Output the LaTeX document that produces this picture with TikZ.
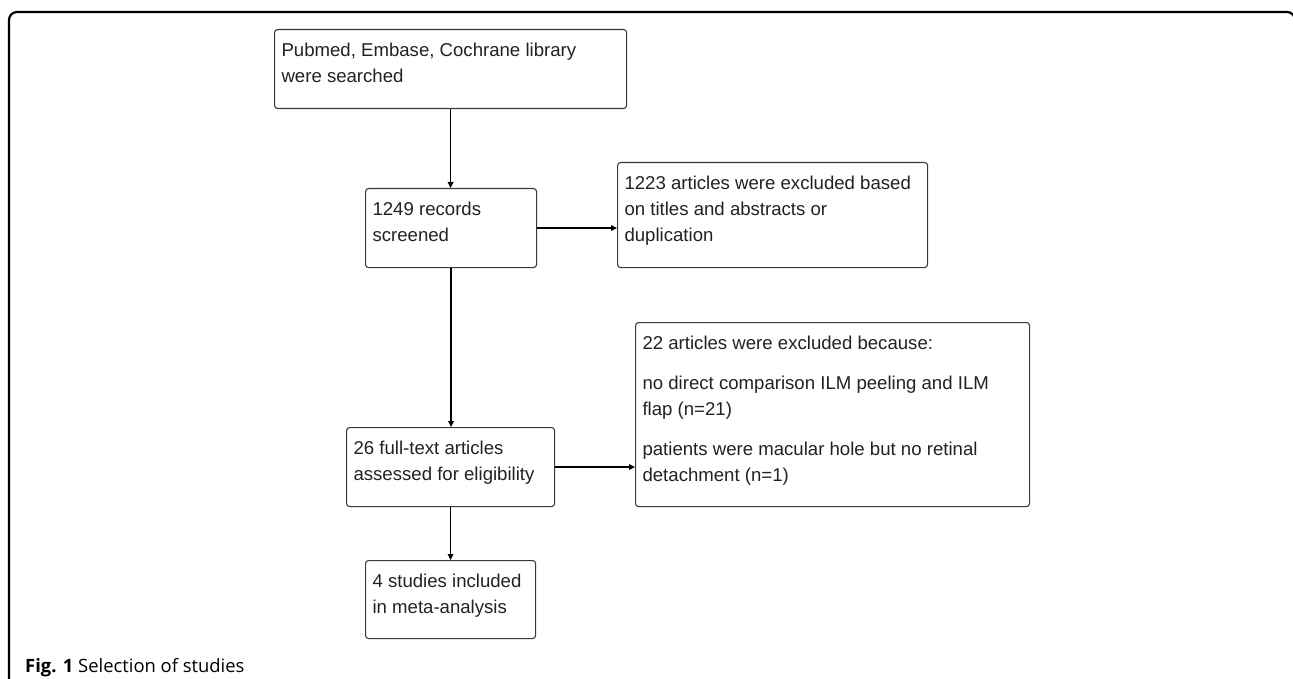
\documentclass[tikz,border=0pt]{standalone}
\usepackage{fontspec}
\setmainfont{Liberation Sans}
\newfontfamily\capfont{Open Sans}
\usetikzlibrary{arrows.meta}
\definecolor{boxgray}{HTML}{3A3A3A}
\definecolor{textgray}{HTML}{222222}
\newcommand{\bxt}[3]{\parbox[c][#2][t]{#1}{\raggedright\fontsize{18.6pt}{26pt}\selectfont\rule{0pt}{27pt}#3}}
\begin{document}
\begin{tikzpicture}[x=1pt,y=-1pt,
  flowbox/.style={draw=boxgray, line width=1.1pt, rounded corners=3pt, anchor=north west,
    inner xsep=7pt, inner ysep=0pt, text=textgray},
  flowarrow/.style={draw=black, line width=1.3pt, -{Triangle[length=6pt,width=5.5pt]}}]
\useasboundingbox (0,0) rectangle (1293,679);
\fill[white] (0,0) rectangle (1293,679);
% outer frame
\draw[line width=2.2pt, rounded corners=8pt] (9,700) -- (9,12) -- (1295,12) -- (1295,700);
% boxes
\node[flowbox] (b1) at (274,29) {\bxt{338pt}{79pt}{Pubmed, Embase, Cochrane library\\were searched}};
\node[flowbox] (b2) at (365,188) {\bxt{157pt}{79pt}{1249 records\\screened}};
\node[flowbox] (b3) at (617,162) {\bxt{296pt}{105pt}{1223 articles were excluded based\\on titles and abstracts or\\duplication}};
\node[flowbox] (b4) at (635,322) {\bxt{380pt}{184pt}{22 articles were excluded because:\\[14pt]no direct comparison ILM peeling and ILM\\flap (n=21)\\[14pt]patients were macular hole but no retinal\\detachment (n=1)}};
\node[flowbox] (b5) at (346,427) {\bxt{194pt}{79pt}{26 full-text articles\\assessed for eligibility}};
\node[flowbox] (b6) at (365,560) {\bxt{156pt}{78pt}{4 studies included\\in meta-analysis}};
% connectors
\draw[flowarrow] (b1.south) -- (b1.south |- b2.north);
\draw[flowarrow] (b2.east) -- (b2.east -| b3.west);
\draw[flowarrow] (b2.south) -- (b2.south |- b5.north);
\draw[flowarrow] (b5.east) -- (b5.east -| b4.west);
\draw[flowarrow] (b5.south) -- (b5.south |- b6.north);
% caption
\node[anchor=base west, inner sep=0pt] (cap) at (25,672) {\capfont\fontsize{18.4pt}{22pt}\selectfont\textbf{Fig. 1} Selection of studies};
\end{tikzpicture}
\end{document}
